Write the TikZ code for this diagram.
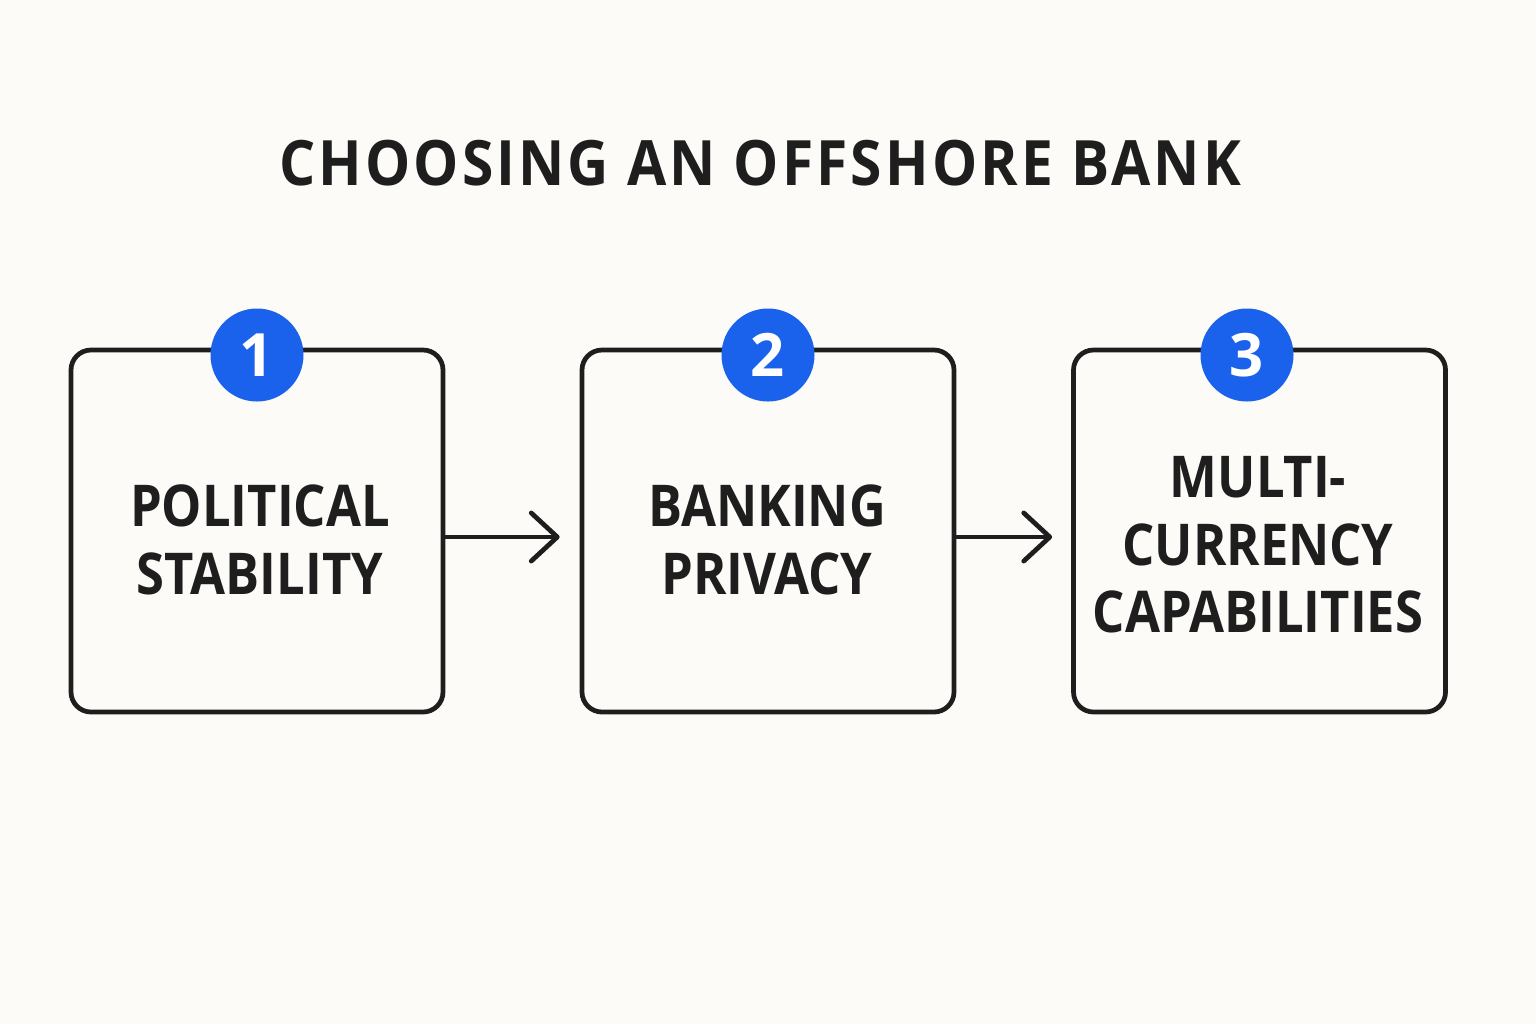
\documentclass[tikz,border=0pt]{standalone}
\usepackage{fontspec}
\setmainfont[FakeStretch=0.88]{Open Sans}
\newfontfamily\titlefont[LetterSpace=5,FakeStretch=0.91]{Open Sans}
\newfontfamily\badgefont{Open Sans}
\usetikzlibrary{arrows.meta,positioning}
\definecolor{bgcol}{HTML}{FCFBF7}
\definecolor{inkcol}{HTML}{1E1E1E}
\definecolor{badgecol}{HTML}{1A62EC}
\tikzset{
  stepbox/.style = {draw=inkcol, line width=1.35pt, rounded corners=0.2cm, fill=bgcol,
    minimum width=3.72cm, minimum height=3.62cm, align=center, inner sep=0pt},
  steptext/.style = {align=center, font=\fontsize{16.4}{19.2}\selectfont\bfseries, text=inkcol},
  badge/.style = {circle, fill=badgecol, minimum size=0.93cm, inner sep=0pt,
    text=white, font=\badgefont\fontsize{17}{17}\selectfont\bfseries},
  flow/.style = {draw=inkcol, line width=1.35pt, line cap=round,
    -{Straight Barb[length=7.4pt, width=13.7pt, line cap=round, line join=round]}}
}
\begin{document}
\begin{tikzpicture}
	\fill[bgcol] (0,0) rectangle (15.36,-10.24);
	\useasboundingbox (0,0) rectangle (15.36,-10.24);
	% title
	\node [font=\titlefont\fontsize{17.8}{21}\selectfont\bfseries, text=inkcol] (title) at (7.6,-1.63) {CHOOSING AN OFFSHORE BANK};
	% the three boxes
	\node [stepbox] (b1) at (2.57,-5.31) {};
	\node [stepbox] (b2) at (7.68,-5.31) {};
	\node [stepbox] (b3) at (12.595,-5.31) {};
	\node [steptext] (t1) at (2.6,-5.40) {POLITICAL\\STABILITY};
	\node [steptext] (t2) at (7.67,-5.40) {BANKING\\PRIVACY};
	\node [steptext] (t3) at (12.58,-5.45) {MULTI-\\CURRENCY\\CAPABILITIES};
	% badges
	\node [badge] (n1) at (2.57,-3.55) {1};
	\node [badge] (n2) at (7.68,-3.55) {2};
	\node [badge] (n3) at (12.47,-3.55) {3};
	% arrows
	\draw [flow] ([yshift=-0.06cm]b1.east) -- ([xshift=-0.2cm,yshift=-0.06cm]b2.west);
	\draw [flow] ([yshift=-0.06cm]b2.east) -- ([xshift=-0.19cm,yshift=-0.06cm]b3.west);
\end{tikzpicture}
\end{document}
